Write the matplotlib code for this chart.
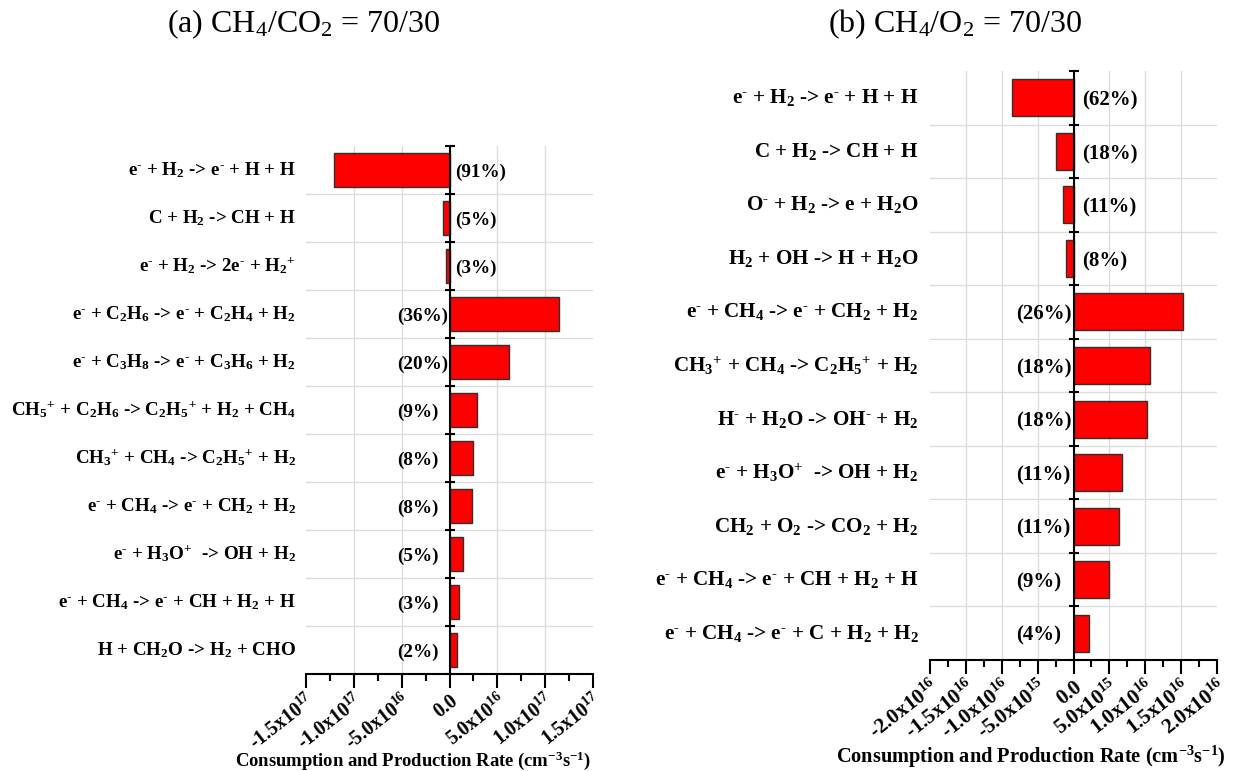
import numpy as np
import matplotlib
matplotlib.use("Agg")
import matplotlib.pyplot as plt

plt.rcParams['font.family'] = ['Liberation Serif', 'DejaVu Serif']
plt.rcParams['font.weight'] = 'bold'
plt.rcParams['mathtext.fontset'] = 'custom'
plt.rcParams['mathtext.default'] = 'regular'

# (a) CH4/CO2 = 70/30
left_labels = [
    "e$^{‐}$ + H$_2$ -> e$^{‐}$ + H + H",
    "C + H$_2$ -> CH + H",
    "e$^{‐}$ + H$_2$ -> 2e$^{‐}$ + H$_2$$^{+}$",
    "e$^{‐}$ + C$_2$H$_6$ -> e$^{‐}$ + C$_2$H$_4$ + H$_2$",
    "e$^{‐}$ + C$_3$H$_8$ -> e$^{‐}$ + C$_3$H$_6$ + H$_2$",
    "CH$_5$$^{+}$ + C$_2$H$_6$ -> C$_2$H$_5$$^{+}$ + H$_2$ + CH$_4$",
    "CH$_3$$^{+}$ + CH$_4$ -> C$_2$H$_5$$^{+}$ + H$_2$",
    "e$^{‐}$ + CH$_4$ -> e$^{‐}$ + CH$_2$ + H$_2$",
    "e$^{‐}$ + H$_3$O$^{+}$  -> OH + H$_2$",
    "e$^{‐}$ + CH$_4$ -> e$^{‐}$ + CH + H$_2$ + H",
    "H + CH$_2$O -> H$_2$ + CHO",
]
left_vals = [-1.21e17, -0.7e16, -0.4e16, 1.14e17, 6.2e16, 2.9e16, 2.5e16, 2.4e16, 1.45e16, 0.95e16, 0.75e16]
left_pct = ["(91%)", "(5%)", "(3%)", "(36%)", "(20%)", "(9%)", "(8%)", "(8%)", "(5%)", "(3%)", "(2%)"]
left_ticks = [-1.5e17, -1.0e17, -5.0e16, 0.0, 5.0e16, 1.0e17, 1.5e17]
left_ticklabels = ["-1.5x10$^{17}$", "-1.0x10$^{17}$", "-5.0x10$^{16}$", "0.0",
                   "5.0x10$^{16}$", "1.0x10$^{17}$", "1.5x10$^{17}$"]

# (b) CH4/O2 = 70/30
right_labels = [
    "e$^{‐}$ + H$_2$ -> e$^{‐}$ + H + H",
    "C + H$_2$ -> CH + H",
    "O$^{‐}$ + H$_2$ -> e + H$_2$O",
    "H$_2$ + OH -> H + H$_2$O",
    "e$^{‐}$ + CH$_4$ -> e$^{‐}$ + CH$_2$ + H$_2$",
    "CH$_3$$^{+}$ + CH$_4$ -> C$_2$H$_5$$^{+}$ + H$_2$",
    "H$^{‐}$ + H$_2$O -> OH$^{‐}$ + H$_2$",
    "e$^{‐}$ + H$_3$O$^{+}$  -> OH + H$_2$",
    "CH$_2$ + O$_2$ -> CO$_2$ + H$_2$",
    "e$^{‐}$ + CH$_4$ -> e$^{‐}$ + CH + H$_2$ + H",
    "e$^{‐}$ + CH$_4$ -> e$^{‐}$ + C + H$_2$ + H$_2$",
]
right_vals = [-8.6e15, -2.5e15, -1.5e15, -1.1e15, 1.52e16, 1.06e16, 1.03e16, 6.7e15, 6.4e15, 5.0e15, 2.1e15]
right_pct = ["(62%)", "(18%)", "(11%)", "(8%)", "(26%)", "(18%)", "(18%)", "(11%)", "(11%)", "(9%)", "(4%)"]
right_ticks = [-2.0e16, -1.5e16, -1.0e16, -5.0e15, 0.0, 5.0e15, 1.0e16, 1.5e16, 2.0e16]
right_ticklabels = ["-2.0x10$^{16}$", "-1.5x10$^{16}$", "-1.0x10$^{16}$", "-5.0x10$^{15}$", "0.0",
                    "5.0x10$^{15}$", "1.0x10$^{16}$", "1.5x10$^{16}$", "2.0x10$^{16}$"]

fig = plt.figure(figsize=(12.4, 7.71), dpi=100)
ax1 = fig.add_axes([306/1240, 1-674/771, 287/1240, 528/771])
ax2 = fig.add_axes([930/1240, 1-660/771, 287/1240, 589/771])


def panel(ax, labels, vals, pct, ticks, ticklabels, lab_x, pos_x, neg_x, xlab_x, xlab_y,
          fs_lab, fs_pct, fs_tick, fs_xlab):
    n = len(labels)
    y = np.arange(n)
    ax.barh(y, vals, height=0.69, color='#ff0000', edgecolor='#303030', linewidth=1.0, zorder=3)
    ax.set_ylim(n - 0.5, -0.5)
    ax.set_xlim(ticks[0], ticks[-1])

    # spines
    ax.spines['top'].set_visible(False)
    ax.spines['right'].set_visible(False)
    ax.spines['left'].set_position(('data', 0))
    ax.spines['left'].set_linewidth(1.5)
    ax.spines['bottom'].set_linewidth(1.5)
    ax.spines['left'].set_zorder(4)

    # y ticks at category boundaries
    bounds = np.arange(n + 1) - 0.5
    ax.set_yticks(bounds)
    ax.set_yticklabels([])
    ax.tick_params(axis='y', direction='inout', length=7, width=1.5)

    # x ticks
    ax.set_xticks(ticks)
    ax.set_xticklabels(ticklabels, rotation=38, ha='right', va='top',
                       rotation_mode='anchor', fontsize=fs_tick, fontweight='bold')
    minors = [(a + b) / 2 for a, b in zip(ticks[:-1], ticks[1:])]
    ax.set_xticks(minors, minor=True)
    ax.tick_params(axis='x', which='major', direction='out', length=10, width=1.5, pad=2)
    ax.tick_params(axis='x', which='minor', direction='out', length=5, width=1.5)

    ax.grid(True, which='major', color='#dcdcdc', linewidth=1.0, zorder=0)
    ax.set_axisbelow(True)
    ax.yaxis.get_gridlines()[0].set_visible(False)
    ax.yaxis.get_gridlines()[-1].set_visible(False)
    ax.xaxis.get_gridlines()[0].set_visible(False)
    ax.xaxis.get_gridlines()[-1].set_visible(False)

    tr = ax.get_yaxis_transform()
    for i in range(n):
        ax.text(lab_x, y[i], labels[i], transform=tr, ha='right', va='center',
                fontsize=fs_lab, fontweight='bold')
        px = neg_x if vals[i] < 0 else pos_x
        ax.text(px, y[i] + 0.05, pct[i], transform=tr, ha='left', va='center',
                fontsize=fs_pct, fontweight='bold')

    ax.set_xlabel("Consumption and Production Rate (cm$^{-3}$s$^{-1}$)",
                  fontsize=fs_xlab, fontweight='bold')
    ax.xaxis.set_label_coords(xlab_x, xlab_y)


panel(ax1, left_labels, left_vals, left_pct, left_ticks, left_ticklabels,
      -0.035, 0.318, 0.52, 0.373, -0.142, 13.7, 13.8, 14.2, 13.4)
panel(ax2, right_labels, right_vals, right_pct, right_ticks, right_ticklabels,
      -0.04, 0.30, 0.53, 0.352, -0.143, 15.2, 15.0, 15.2, 14.7)

fig.text(304/1240, 1-24/771, "(a) CH$_4$/CO$_2$ = 70/30", ha='center', va='center',
         fontsize=23, fontweight='normal')
fig.text(955/1240, 1-24/771, "(b) CH$_4$/O$_2$ = 70/30", ha='center', va='center',
         fontsize=23, fontweight='normal')

fig.savefig("out.png", dpi=100)
